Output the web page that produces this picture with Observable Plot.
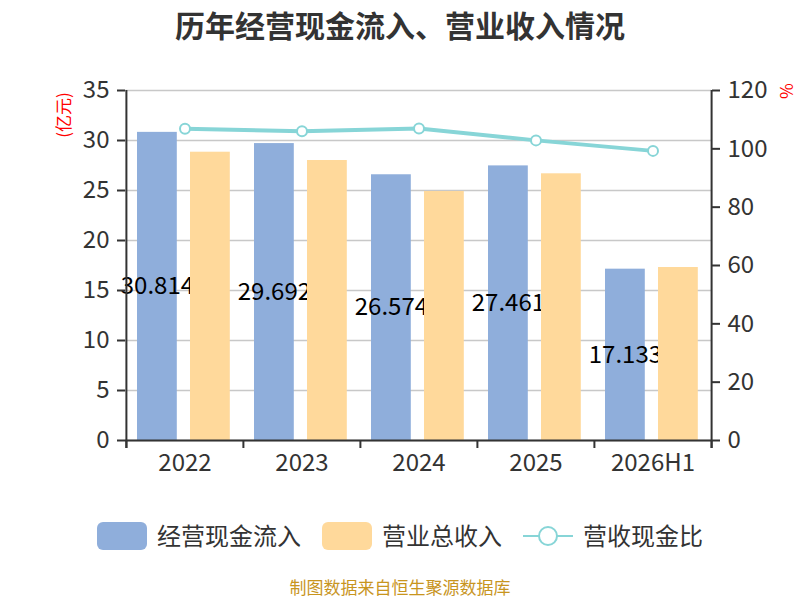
<!DOCTYPE html>
<html>
<head>
<meta charset="utf-8">
<script src="https://cdn.jsdelivr.net/npm/d3@7"></script>
<script src="https://cdn.jsdelivr.net/npm/@observablehq/plot@0.6"></script>
<style>
  body { margin:0; width:800px; height:600px; position:relative; background:#fff;
         font-family:"Noto Sans CJK SC","Noto Sans",sans-serif; overflow:hidden; }
  .abs { position:absolute; }
  #title { top:4px; left:0; width:800px; text-align:center; font-size:30px; font-weight:bold; color:#333; line-height:40px; }
  #chart { top:50px; left:0; }
  .unit { color:#ff0000; font-size:17px; line-height:20px; white-space:nowrap; }
  .legtext { font-size:24px; color:#333; line-height:30px; white-space:nowrap; }
  #caption { top:576px; left:0; width:800px; text-align:center; font-size:17px; color:#c8951e; line-height:22px; }
</style>
</head>
<body>
<div id="title" class="abs">历年经营现金流入、营业收入情况</div>
<div id="chart" class="abs"></div>
<div class="abs unit" style="left:63px;top:115px;transform:translate(-50%,-50%) rotate(-90deg);">(亿元)</div>
<div class="abs unit" style="left:787px;top:91px;transform:translate(-50%,-50%) rotate(90deg);">%</div>

<div class="abs" style="left:97px;top:522px;width:50px;height:28px;border-radius:6px;background:#8FAEDB;"></div>
<div class="abs legtext" style="left:157px;top:520px;">经营现金流入</div>
<div class="abs" style="left:322px;top:522px;width:50px;height:28px;border-radius:6px;background:#FFD99B;"></div>
<div class="abs legtext" style="left:382px;top:520px;">营业总收入</div>
<svg class="abs" style="left:522px;top:524px;" width="52" height="24">
  <line x1="1" y1="12" x2="51" y2="12" stroke="#87D5D7" stroke-width="2"/>
  <circle cx="26" cy="12" r="9" fill="#fff" stroke="#87D5D7" stroke-width="2"/>
</svg>
<div class="abs legtext" style="left:583px;top:520px;">营收现金比</div>
<div id="caption" class="abs">制图数据来自恒生聚源数据库</div>

<script>
const categories = ["2022", "2023", "2024", "2025", "2026H1"];
const cashInflow = [30.814, 29.692, 26.574, 27.461, 17.133];
const revenue = [28.83, 28.0, 24.9, 26.67, 17.3];
const ratio = [106.9, 106.0, 107.0, 102.9, 99.3];
const leftTicks = [0, 5, 10, 15, 20, 25, 30, 35];
const rightTicks = [0, 20, 40, 60, 80, 100, 120];
const leftMax = 35, rightMax = 120;

const table = categories.map((c, i) => ({cat: c, cash: cashInflow[i], rev: revenue[i], ratio: ratio[i]}));
const toLeft = v => v * leftMax / rightMax;

const W = 800, mL = 125, mR = 89;
const bw = (W - mL - mR) / categories.length;
const axisColor = "#333";

const chart = Plot.plot({
  width: W,
  height: 440,
  marginLeft: mL,
  marginRight: mR,
  marginTop: 40,
  marginBottom: 50,
  style: {color: axisColor, fontFamily: "'Noto Sans CJK SC','Noto Sans',sans-serif", background: "transparent", overflow: "visible"},
  x: {type: "band", domain: categories, padding: 0, label: null},
  y: {domain: [0, leftMax], label: null},
  marks: [
    Plot.ruleY(leftTicks, {stroke: "#c8c8c8", strokeWidth: 1.5}),
    Plot.barY(table, {x: "cat", y: "cash", fill: "#8FAEDB", insetLeft: 11, insetRight: bw - 51}),
    Plot.text(table, {x: "cat", y: d => d.cash / 2, text: d => d.cash.toFixed(3), dx: 31 - bw / 2, fontSize: 24, fill: "#000"}),
    Plot.barY(table, {x: "cat", y: "rev", fill: "#FFD99B", insetLeft: 64, insetRight: bw - 104}),
    Plot.line(table, {x: "cat", y: d => toLeft(d.ratio), stroke: "#87D5D7", strokeWidth: 4}),
    Plot.dot(table, {x: "cat", y: d => toLeft(d.ratio), r: 5, fill: "#fff", stroke: "#87D5D7", strokeWidth: 2}),
    Plot.ruleY([0], {stroke: axisColor, strokeWidth: 2}),
    Plot.ruleX([categories[0]], {x: d => d, dx: -bw / 2, y1: 0, y2: leftMax, insetTop: 8, stroke: axisColor, strokeWidth: 2}),
    Plot.ruleX([categories[categories.length - 1]], {x: d => d, dx: bw / 2, y1: 0, y2: leftMax, insetTop: 8, stroke: axisColor, strokeWidth: 2}),
    Plot.axisX({tickSize: 8, dx: -bw / 2, tickFormat: () => "", strokeWidth: 2}),
    Plot.axisX({ticks: [categories[categories.length - 1]], tickSize: 8, dx: bw / 2, tickFormat: () => "", strokeWidth: 2}),
    Plot.axisX({tickSize: 0, tickPadding: 13, fontSize: 24, fill: axisColor}),
    Plot.axisY({ticks: leftTicks, anchor: "left", tickSize: 8, tickPadding: 8, fontSize: 24, strokeWidth: 2, label: null}),
    Plot.axisY({ticks: rightTicks.map(toLeft), anchor: "right", tickSize: 8, tickPadding: 8, fontSize: 24, strokeWidth: 2, label: null,
                tickFormat: d => String(Math.round(d * rightMax / leftMax))})
  ]
});
document.getElementById("chart").appendChild(chart);
</script>
</body>
</html>
